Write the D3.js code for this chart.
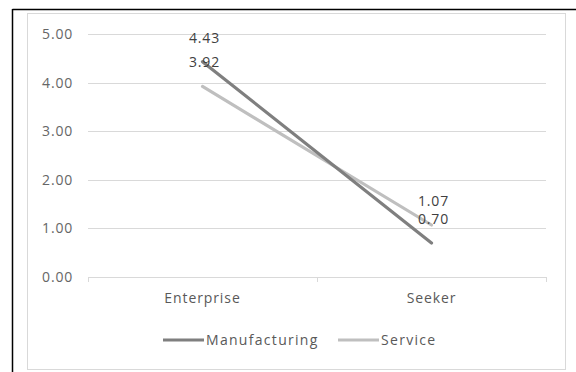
<!DOCTYPE html>
<html><head><meta charset="utf-8">
<script src="https://cdn.jsdelivr.net/npm/d3@7"></script>
<style>
html,body{margin:0;padding:0;background:#fff;}
text{font-family:"Open Sans",sans-serif;}
</style></head>
<body>
<svg id="c" width="576" height="372"></svg>
<script>
const categories = ["Enterprise", "Seeker"];
const seriesNames = ["Manufacturing", "Service"];
const manufacturing = [4.43, 0.70];
const service = [3.92, 1.07];
const yTicks = [0, 1, 2, 3, 4, 5];
const colors = ["#7f7f7f", "#bfbfbf"];

const svg = d3.select("#c");
// outer black border (top, left)
svg.append("line").attr("x1",12.5).attr("x2",576).attr("y1",9.5).attr("y2",9.5).attr("stroke","#000").attr("stroke-width",1.5);
svg.append("line").attr("x1",12.5).attr("x2",12.5).attr("y1",9).attr("y2",372).attr("stroke","#000").attr("stroke-width",1.5);
// chart frame
svg.append("rect").attr("x",27.5).attr("y",13.5).attr("width",538).attr("height",356).attr("fill","#fff").attr("stroke","#d9d9d9");

const x = d3.scaleBand().domain(categories).range([88, 546]);
const y = d3.scaleLinear().domain([0, 5]).range([277, 34]);

// gridlines
svg.append("g").selectAll("line").data(yTicks).join("line")
  .attr("x1",88).attr("x2",546)
  .attr("y1",d=>Math.round(y(d))+0.5).attr("y2",d=>Math.round(y(d))+0.5)
  .attr("stroke","#d9d9d9").attr("stroke-width",1);

// y tick labels
const tf = d3.format(".2f");
svg.append("g").selectAll("text").data(yTicks).join("text")
  .attr("x",73).attr("y",d=>y(d)).attr("dy","0.35em")
  .attr("text-anchor","end").attr("font-size",14).attr("letter-spacing",0.8)
  .attr("fill","#666").text(d=>tf(d));

// x axis tick marks
svg.append("g").selectAll("line").data([88, 317, 546]).join("line")
  .attr("x1",d=>d+0.5).attr("x2",d=>d+0.5).attr("y1",277).attr("y2",282)
  .attr("stroke","#d9d9d9");

// category labels
svg.append("g").selectAll("text").data(categories).join("text")
  .attr("x",d=>x(d)+x.bandwidth()/2).attr("y",298).attr("dy","0.35em")
  .attr("text-anchor","middle").attr("font-size",14).attr("letter-spacing",0.9)
  .attr("fill","#595959").text(d=>d);

const series = [manufacturing, service];
const line = d3.line().x((d,i)=>x(categories[i])+x.bandwidth()/2).y(d=>y(d));
// draw service first then manufacturing on top
[1,0].forEach(s=>{
  svg.append("path").datum(series[s]).attr("d",line)
    .attr("fill","none").attr("stroke",colors[s]).attr("stroke-width",3.2).attr("stroke-linecap","round");
});

// data labels
series.forEach((vals,s)=>{
  svg.append("g").selectAll("text").data(vals).join("text")
    .attr("x",(d,i)=>x(categories[i])+x.bandwidth()/2+2)
    .attr("y",d=>y(d)-24).attr("dy","0.35em")
    .attr("text-anchor","middle").attr("font-size",14).attr("letter-spacing",0.8)
    .attr("fill","#404040").text(d=>tf(d));
});

// legend
const legend = [{name:seriesNames[0], x:163, c:colors[0]}, {name:seriesNames[1], x:338, c:colors[1]}];
legend.forEach(l=>{
  svg.append("line").attr("x1",l.x).attr("x2",l.x+41).attr("y1",340).attr("y2",340)
    .attr("stroke",l.c).attr("stroke-width",3.2);
  svg.append("text").attr("x",l.x+43).attr("y",340).attr("dy","0.35em")
    .attr("font-size",14).attr("letter-spacing",1.3).attr("fill","#595959").text(l.name);
});
</script>
</body></html>
